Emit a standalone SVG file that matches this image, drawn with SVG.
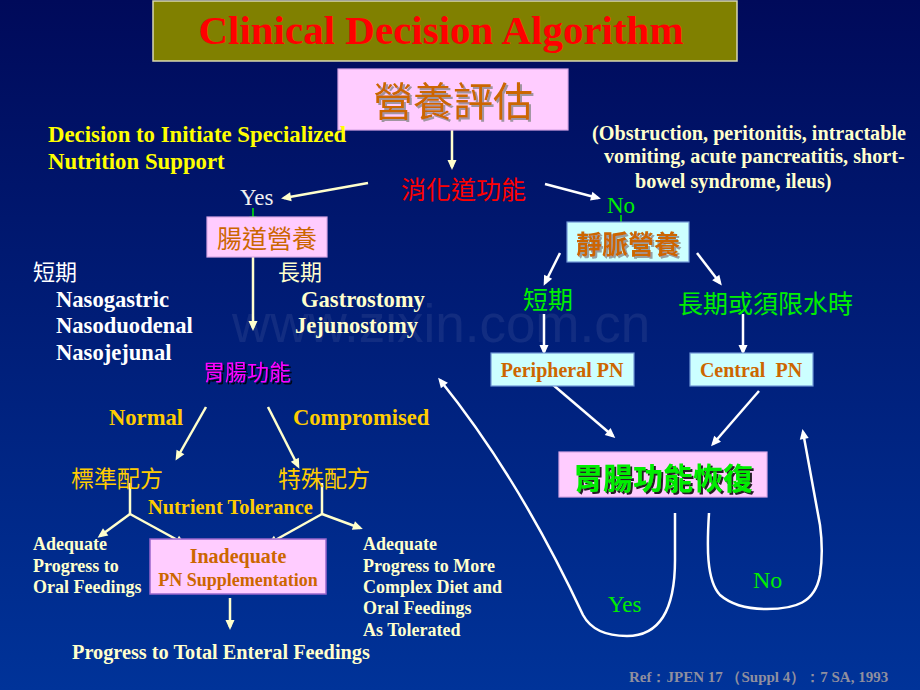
<svg xmlns="http://www.w3.org/2000/svg" width="920" height="690" viewBox="0 0 920 690">
<defs>
<linearGradient id="bg" x1="0" y1="0" x2="0" y2="1">
<stop offset="0" stop-color="#000a5a"/>
<stop offset="1" stop-color="#003399"/>
</linearGradient>
<marker id="aw" viewBox="0 0 10 10" refX="7" refY="5" markerWidth="11" markerHeight="10" markerUnits="userSpaceOnUse" orient="auto"><path d="M0,0.5 L10,5 L0,9.5 z" fill="#ffffff"/></marker>
<marker id="ac" viewBox="0 0 10 10" refX="7" refY="5" markerWidth="11" markerHeight="10" markerUnits="userSpaceOnUse" orient="auto"><path d="M0,0.5 L10,5 L0,9.5 z" fill="#ffffcc"/></marker>
<marker id="ag" viewBox="0 0 10 10" refX="7" refY="5" markerWidth="9" markerHeight="8" markerUnits="userSpaceOnUse" orient="auto"><path d="M0,0.5 L10,5 L0,9.5 z" fill="#00ee00"/></marker>
<filter id="shg" x="-10%" y="-10%" width="130%" height="140%"><feDropShadow dx="2" dy="2" stdDeviation="0.6" flood-color="#888888" flood-opacity="0.8"/></filter>
<filter id="shd" x="-10%" y="-10%" width="130%" height="140%"><feDropShadow dx="2" dy="2" stdDeviation="0.4" flood-color="#000000" flood-opacity="0.85"/></filter>
</defs>
<style>
.en{font-family:"Liberation Serif","Times New Roman",serif;font-weight:bold}
.rg{font-family:"Liberation Serif","Times New Roman",serif}
.zh{font-family:"Noto Sans CJK TC","Noto Sans CJK SC",sans-serif}
.pink{fill:#ffccff;stroke:#d9a6e6;stroke-width:1.2}
.cyan{fill:#ccffff;stroke:#6f97d6;stroke-width:1.2}
.or{fill:#cc6600}
.cr{fill:#ffffcc}
.gd{fill:#ffcc00}
.gn{fill:#00ee00}
.lw{fill:none;stroke:#ffffff;stroke-width:2.5}
.lc{fill:none;stroke:#ffffcc;stroke-width:2.5}
.lg{fill:none;stroke:#00ee00;stroke-width:1.5;marker-end:url(#ag)}
.maw{marker-end:url(#aw)}
.mac{marker-end:url(#ac)}
</style>
<rect x="0" y="0" width="920" height="690" fill="url(#bg)"/>
<text x="232" y="342" font-family="Liberation Sans, Arial, sans-serif" font-size="53" fill="#ffffff" fill-opacity="0.07">www.zixin.com.cn</text>

<g id="title">
<rect x="153" y="1" width="584" height="60" fill="#808000" stroke="#d8d8b0" stroke-width="1.5"/>
<text x="441" y="44" class="en" font-size="41" fill="#ff0000" text-anchor="middle">Clinical Decision Algorithm</text>
</g>

<g id="connectors">
<path class="lc mac" d="M452,130 L452,167"/>
<path class="lc mac" d="M368,183 L284,198"/>
<path class="lw maw" d="M545,184 L598,198"/>
<path class="lg" d="M253,208 L253,222"/>
<path class="lg" d="M621,215 L621,228"/>
<path class="lc mac" d="M253,257 L253,328"/>
<path class="lw maw" d="M560,253 L545,283"/>
<path class="lw maw" d="M697,253 L720,283"/>
<path class="lw maw" d="M544,314 L544,352"/>
<path class="lw maw" d="M743,314 L743,352"/>
<path class="lw maw" d="M552,384 L613,436"/>
<path class="lw maw" d="M759,391 L713,444"/>
<path class="lc mac" d="M206,407 L177,458"/>
<path class="lc mac" d="M268,407 L298,466"/>
<path class="lc" d="M130,483 L130,514"/>
<path class="lc mac" d="M130,514 L100,536"/>
<path class="lc mac" d="M130,514 L183,543"/>
<path class="lc" d="M322,483 L322,514"/>
<path class="lc mac" d="M322,514 L270,543"/>
<path class="lc mac" d="M322,514 L360,528"/>
<path class="lc mac" d="M230,598 L230,627"/>
<path class="lw maw" d="M675,513 L675,560 C675,610 660,636 627,636 C605,636 590,628 583,615 Q519,478 440,380"/>
<path class="lw maw" d="M709,513 C707,545 706,580 720,595 C735,608 755,609 767,609 C795,609 815,603 820,575 C823,555 822,540 820,525 L803,432"/>
</g>

<g id="assess">
<rect class="pink" x="338" y="69" width="230" height="61"/>
<text x="453" y="116" class="zh or" font-size="40" text-anchor="middle" filter="url(#shg)">營養評估</text>
</g>

<g id="decision-note">
<text x="48" y="142" class="en" font-size="22.8" fill="#ffff00">Decision to Initiate Specialized</text>
<text x="48" y="169" class="en" font-size="22.8" fill="#ffff00">Nutrition Support</text>
</g>

<g id="contraindications">
<text x="592" y="140" class="en cr" font-size="20.2">(Obstruction, peritonitis, intractable</text>
<text x="604" y="163" class="en cr" font-size="20.2">vomiting, acute pancreatitis, short-</text>
<text x="635" y="188" class="en cr" font-size="20.2">bowel syndrome, ileus)</text>
</g>

<g id="gi-function">
<text x="401" y="199" class="zh" font-size="25" fill="#ff0000">消化道功能</text>
</g>

<g id="yes-label"><text x="240" y="205" class="rg" font-size="23" fill="#f0f0f0">Yes</text></g>
<g id="no-label"><text x="607" y="213" class="rg gn" font-size="23">No</text></g>

<g id="enteral">
<rect class="pink" x="207" y="217" width="120" height="40"/>
<text x="267" y="248" class="zh or" font-size="25" text-anchor="middle">腸道營養</text>
</g>

<g id="parenteral">
<rect class="cyan" x="567" y="222" width="122" height="40"/>
<text x="628" y="254" class="zh or" font-size="26" font-weight="bold" text-anchor="middle" filter="url(#shg)">靜脈營養</text>
</g>

<g id="short-term-routes">
<text x="33" y="280" class="zh" font-size="22" fill="#ffffff">短期</text>
<text x="56" y="307" class="en" font-size="22.6" fill="#ffffff">Nasogastric</text>
<text x="56" y="333" class="en" font-size="22.6" fill="#ffffff">Nasoduodenal</text>
<text x="56" y="360" class="en" font-size="22.6" fill="#ffffff">Nasojejunal</text>
</g>

<g id="long-term-routes">
<text x="278" y="280" class="zh cr" font-size="22">長期</text>
<text x="301" y="307" class="en cr" font-size="22.6">Gastrostomy</text>
<text x="295" y="333" class="en cr" font-size="22.6">Jejunostomy</text>
</g>

<g id="gut-function">
<text x="203" y="380" class="zh" font-size="22" fill="#ff00ff" filter="url(#shd)">胃腸功能</text>
</g>

<g id="pn-short"><text x="523" y="309" class="zh gn" font-size="25">短期</text></g>
<g id="pn-long"><text x="678" y="313" class="zh gn" font-size="25">長期或須限水時</text></g>

<g id="peripheral-pn">
<rect class="cyan" x="491" y="353" width="143" height="33"/>
<text x="562" y="377" class="en or" font-size="20" text-anchor="middle">Peripheral PN</text>
</g>

<g id="central-pn">
<rect class="cyan" x="690" y="353" width="123" height="33"/>
<text x="751" y="377" class="en or" font-size="20" text-anchor="middle" xml:space="preserve">Central  PN</text>
</g>

<g id="recovery">
<rect class="pink" x="559" y="452" width="208" height="45"/>
<text x="663" y="489" class="zh gn" font-size="30" font-weight="bold" text-anchor="middle" filter="url(#shd)">胃腸功能恢復</text>
</g>

<g id="normal-label"><text x="109" y="425" class="en gd" font-size="22.6">Normal</text></g>
<g id="compromised-label"><text x="293" y="425" class="en gd" font-size="22.6">Compromised</text></g>

<g id="standard-formula"><text x="71" y="487" class="zh gd" font-size="23">標準配方</text></g>
<g id="special-formula"><text x="278" y="487" class="zh gd" font-size="23">特殊配方</text></g>
<g id="tolerance-label"><text x="148" y="514" class="en gd" font-size="20.4">Nutrient Tolerance</text></g>

<g id="adequate-left">
<text x="33" y="550" class="en cr" font-size="18">Adequate</text>
<text x="33" y="572" class="en cr" font-size="18">Progress to</text>
<text x="33" y="593" class="en cr" font-size="18">Oral Feedings</text>
</g>

<g id="inadequate">
<rect x="150" y="539" width="176" height="55" fill="#ffccff" stroke="#9966cc" stroke-width="1.5"/>
<text x="238" y="563" class="en or" font-size="20" text-anchor="middle">Inadequate</text>
<text x="238" y="586" class="en or" font-size="18" text-anchor="middle">PN Supplementation</text>
</g>

<g id="adequate-right">
<text x="363" y="550" class="en cr" font-size="18">Adequate</text>
<text x="363" y="572" class="en cr" font-size="18">Progress to More</text>
<text x="363" y="593" class="en cr" font-size="18">Complex Diet and</text>
<text x="363" y="614" class="en cr" font-size="18">Oral Feedings</text>
<text x="363" y="636" class="en cr" font-size="18">As Tolerated</text>
</g>

<g id="total-enteral"><text x="72" y="659" class="en cr" font-size="20.3">Progress to Total Enteral Feedings</text></g>

<g id="loop-yes"><text x="608" y="612" class="rg gn" font-size="23">Yes</text></g>
<g id="loop-no"><text x="753" y="588" class="rg gn" font-size="24">No</text></g>

<g id="reference"><text x="629" y="682" class="en" font-size="15" fill="#8f8f9f">Ref：JPEN 17 （Suppl 4）：7 SA, 1993</text></g>
</svg>
